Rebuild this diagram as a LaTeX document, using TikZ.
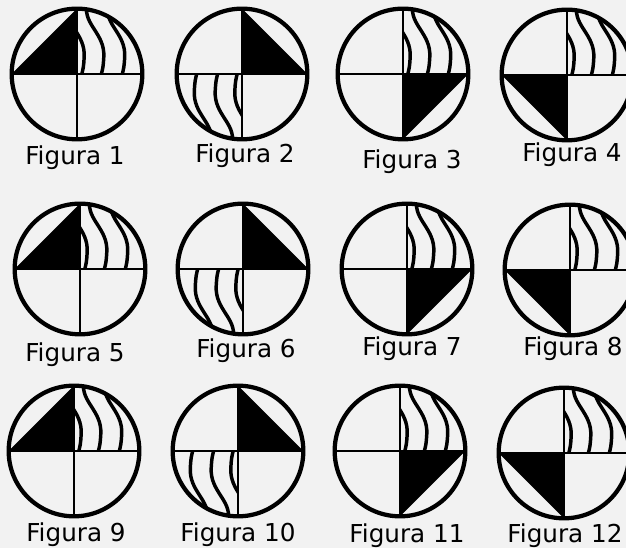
\documentclass[tikz,border=0pt]{standalone}
\usepackage{fontspec}
\setmainfont{DejaVu Sans}
\definecolor{fondo}{HTML}{F2F2F2}

\begin{document}
\begin{tikzpicture}[
  x=0.75pt, y=-0.75pt,
  rim/.style={line width=3.2pt},
  cross/.style={line width=1.1pt},
  wave/.style={line width=2.6pt},
  etiqueta/.style={font=\fontsize{18.5}{22}\selectfont,anchor=base,inner sep=0pt},
  pics/figura/.style 2 args={code={
    \begin{scope}[x=49pt,y=49pt]
      \fill (0,0) -- (#1:1) -- ({#1+90}:1) -- cycle;
      \begin{scope}[rotate=#2]
        \clip (0,0) -- (1,0) arc[start angle=0,end angle=90,radius=1] -- cycle;
        \foreach \s in {-0.3,0,0.32}
          \draw[wave] ({\s+0.15},1.05) .. controls ({\s+0.10},0.75) and ({\s+0.43},0.62) .. ({\s+0.41},0.26)
            .. controls ({\s+0.40},0.10) .. ({\s+0.36},-0.05);
      \end{scope}
      \draw[cross] (-1,0) -- (1,0) (0,-1) -- (0,1);
      \draw[rim] (0,0) circle[radius=1];
    \end{scope}
  }}
]
\useasboundingbox (0,0) rectangle (626,548);
\fill[fondo] (0,0) rectangle (626,548);
\foreach \n/\a/\w/\cx/\cy/\lx/\ly in {
  1/90/0/77/74/75/165, 2/0/180/242/74/245/163, 3/270/0/403/74/412/169, 4/180/0/567/75/572/162,
  5/90/0/80/269/75/362, 6/0/180/243/269/246/358, 7/270/0/407/269/412/356, 8/180/0/570/270/573/356,
  9/90/0/74/451/76/542, 10/0/180/238/451/238/542, 11/270/0/400/451/407/543, 12/180/0/564/453/565/543}
{
  \pic (fig\n) at (\cx,\cy) {figura={\a}{\w}};
  \node[etiqueta] (lab\n) at (\lx,\ly) {Figura \n};
}
\end{tikzpicture}
\end{document}
